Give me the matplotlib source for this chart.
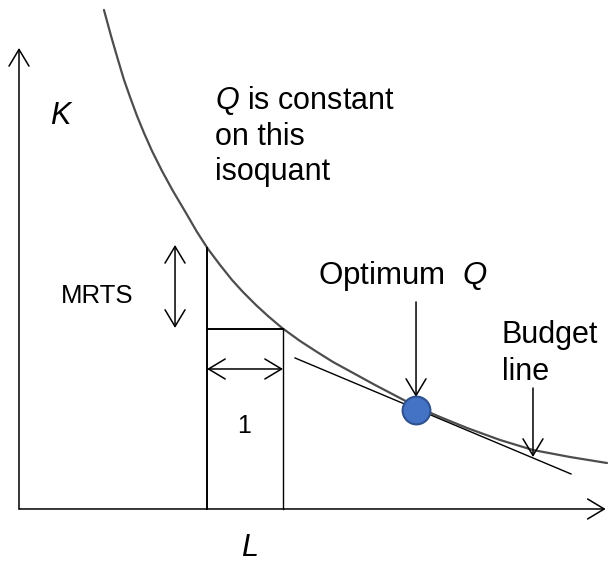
import matplotlib
matplotlib.use("Agg")
import matplotlib.pyplot as plt

plt.rcParams['font.family'] = ['Liberation Sans', 'DejaVu Sans']
plt.rcParams['mathtext.fontset'] = 'custom'
plt.rcParams['mathtext.rm'] = 'Liberation Sans'
plt.rcParams['mathtext.it'] = 'Liberation Sans:italic'

# ---- data (units: 1 = width of the "1" step) ----
iso_L = [1.118, 1.211, 1.303, 1.382, 1.461, 1.553, 1.645, 1.750, 1.882, 2.026,
         2.197, 2.342, 2.487, 2.645, 2.803, 2.947, 3.118, 3.276, 3.461, 3.697,
         3.921, 4.132, 4.421, 4.684, 4.961, 5.237, 5.539, 5.895, 6.329, 6.763,
         7.250, 7.737]
iso_K = [6.566, 6.224, 5.908, 5.645, 5.421, 5.171, 4.947, 4.711, 4.447, 4.184,
         3.895, 3.645, 3.421, 3.211, 3.013, 2.855, 2.684, 2.539, 2.382, 2.211,
         2.066, 1.934, 1.776, 1.632, 1.487, 1.342, 1.211, 1.066, 0.908, 0.776,
         0.684, 0.605]

step_L = [2.474, 3.474]          # left / right verticals of the step
step_K = [3.434, 2.368]          # heights where they meet the isoquant
budget_L = [3.632, 7.263]
budget_K = [1.987, 0.461]
opt_L, opt_K = 5.224, 1.303      # optimum point
axis_K_max = 6.066
axis_L_max = 7.72

fig = plt.figure(figsize=(6.08, 5.65), dpi=100)
ax = fig.add_axes([0, 0, 1, 1])
ax.set_xlim(-0.25, 7.75)
ax.set_ylim(-0.737, 6.697)
ax.axis('off')

arrow_kw = dict(arrowstyle='->,head_length=0.6,head_width=0.36', lw=1.1,
                color='black', shrinkA=0, shrinkB=0, mutation_scale=20)
darrow_kw = dict(arrow_kw, arrowstyle='<->,head_length=0.6,head_width=0.36')

# axes
ax.annotate('', xy=(0, axis_K_max), xytext=(0, 0), arrowprops=arrow_kw)
ax.annotate('', xy=(axis_L_max, 0), xytext=(0, 0), arrowprops=arrow_kw)

# isoquant
ax.plot(iso_L, iso_K, color='#4d4d4d', lw=1.6, solid_capstyle='round', zorder=2)

# step box
ax.plot([step_L[0], step_L[0]], [0, step_K[0]], color='black', lw=1.4)
ax.plot([step_L[0], step_L[1]], [step_K[1], step_K[1]], color='black', lw=1.4)
ax.plot([step_L[1], step_L[1]], [0, step_K[1]], color='black', lw=1.0)

# "1" double arrow
ax.annotate('', xy=(step_L[1], 1.842), xytext=(step_L[0], 1.842), arrowprops=darrow_kw)
ax.text(2.961, 1.0, '1', fontsize=18, ha='center', va='baseline')

# MRTS double arrow
ax.annotate('', xy=(2.053, 2.382), xytext=(2.053, 3.474), arrowprops=darrow_kw)
ax.text(1.026, 2.80, 'MRTS', fontsize=18.5, ha='center', va='center')

# budget line
ax.plot(budget_L, budget_K, color='black', lw=1.0, zorder=3)

# optimum point
ax.plot([opt_L], [opt_K], 'o', ms=20, mfc='#4472C4', mec='#2F528F', mew=1.5, zorder=4)
ax.annotate('', xy=(opt_L, 1.474), xytext=(opt_L, 2.724), arrowprops=arrow_kw)
ax.text(3.934, 2.961, r'Optimum  $Q$', fontsize=22.5, ha='left', va='baseline')

# budget arrow + label
ax.annotate('', xy=(6.763, 0.684), xytext=(6.763, 1.592), arrowprops=arrow_kw)
ax.text(6.355, 2.184, 'Budget', fontsize=22, ha='left', va='baseline')
ax.text(6.355, 1.697, 'line', fontsize=22, ha='left', va='baseline')

# isoquant note
ax.text(2.579, 5.263, r'$Q$ is constant', fontsize=22, ha='left', va='baseline')
ax.text(2.579, 4.789, 'on this', fontsize=22, ha='left', va='baseline')
ax.text(2.579, 4.329, 'isoquant', fontsize=22, ha='left', va='baseline')

# axis labels
ax.text(0.539, 5.171, 'K', fontsize=22, style='italic', ha='center', va='center')
ax.text(3.03, -0.715, 'L', fontsize=22, style='italic', ha='center', va='bottom')

fig.savefig('out.png', dpi=100)
